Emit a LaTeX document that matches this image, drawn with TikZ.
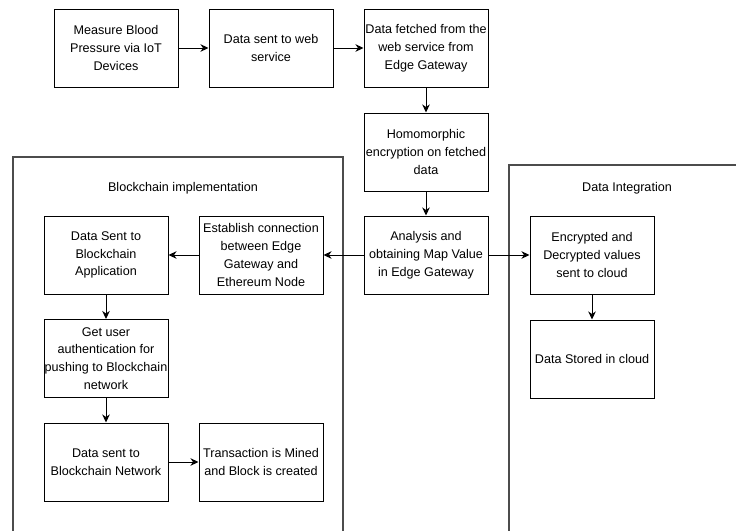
\documentclass[tikz,border=0pt]{standalone}
\usepackage{fontspec}
\setmainfont{Liberation Sans}
\usetikzlibrary{arrows.meta}
\hyphenpenalty=10000
\exhyphenpenalty=10000
\begin{document}
\begin{tikzpicture}[x=1pt,y=-1pt,
  box/.style={draw=black,line width=1pt,minimum width=124pt,minimum height=78pt,
    text width=124pt,inner sep=0pt,align=flush center,
    font=\fontsize{12.6}{17.8}\selectfont},
  container/.style={draw=black!70,line width=1.3pt},
  lbl/.style={font=\fontsize{12.6}{15}\selectfont},
  arr/.style={-{Stealth[length=8pt,width=7.5pt,inset=2.5pt]},line width=1pt}]
\useasboundingbox (0,0) rectangle (736,530);
\begin{scope}
\clip (0,0) rectangle (736,530);
\draw[container] (13,540) -- (13,157) -- (343,157) -- (343,540);
\draw[container] (509,540) -- (509,165) -- (750,165);
\end{scope}
\node[lbl] (lblbc) at (183,188) {Blockchain implementation};
\node[lbl] (lbldi) at (627,188) {Data Integration};
\node[box] (b1) at (116,48) {Measure Blood Pressure via IoT Devices};
\node[box] (b2) at (271,48) {Data sent to web service};
\node[box] (b3) at (426,48) {Data fetched from the web service from Edge Gateway};
\node[box] (b4) at (426,152) {Homomorphic encryption on fetched data};
\node[box] (b5) at (426,255) {Analysis and obtaining Map Value in Edge Gateway};
\node[box] (est) at (261,255) {Establish connection between Edge Gateway and Ethereum Node};
\node[box] (dsba) at (106,255) {Data Sent to Blockchain Application};
\node[box] (auth) at (106,358.5) {Get user authentication for pushing to Blockchain network};
\node[box] (dsbn) at (106,462) {Data sent to Blockchain Network};
\node[box] (trans) at (261,462) {Transaction is Mined and Block is created};
\node[box] (enc) at (592,255) {Encrypted and Decrypted values sent to cloud};
\node[box] (stored) at (592,359) {Data Stored in cloud};
\draw[arr] (b1) -- (b2);
\draw[arr] (b2) -- (b3);
\draw[arr] (b3) -- (b4);
\draw[arr] (b4) -- (b5);
\draw[arr] (b5) -- (est);
\draw[arr] (est) -- (dsba);
\draw[arr] (b5) -- (enc);
\draw[arr] (dsba) -- (auth);
\draw[arr] (auth) -- (dsbn);
\draw[arr] (dsbn) -- (trans);
\draw[arr] (enc) -- (stored);
\end{tikzpicture}
\end{document}
